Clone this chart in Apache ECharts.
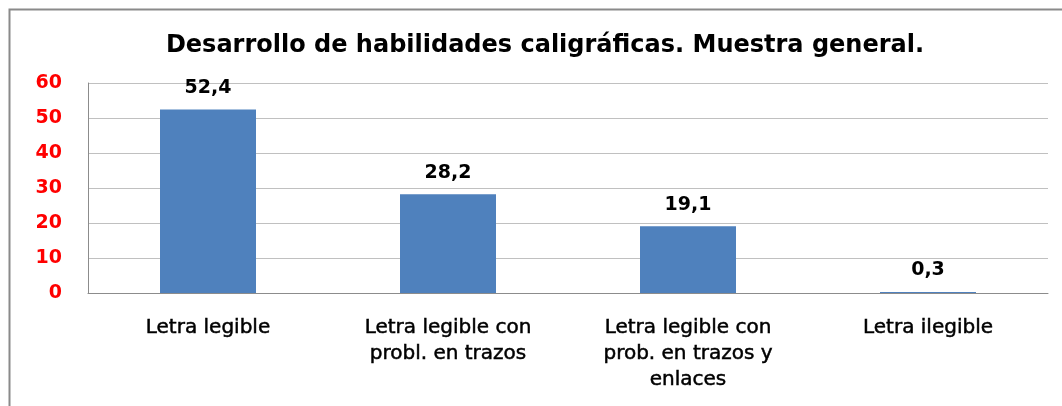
<!DOCTYPE html>
<html>
<head>
<meta charset="utf-8">
<script src="https://cdn.jsdelivr.net/npm/echarts@6/dist/echarts.min.js"></script>
<style>
html,body{margin:0;padding:0;background:#fff;}
#chart{width:1062px;height:406px;}
</style>
</head>
<body>
<div id="chart"></div>
<script>
var titleText = 'Desarrollo de habilidades caligráficas. Muestra general.';
var categories = ['Letra legible', 'Letra legible con\nprobl. en trazos', 'Letra legible con\nprob. en trazos y\nenlaces', 'Letra ilegible'];
var values = [52.4, 28.2, 19.1, 0.3];
var yTicks = [0, 10, 20, 30, 40, 50, 60];

var chart = echarts.init(document.getElementById('chart'), null, {renderer: 'canvas'});
chart.setOption({
  backgroundColor: '#ffffff',
  animation: false,
  graphic: [{
    type: 'rect',
    shape: {x: 9.5, y: 9.5, width: 1200, height: 600},
    style: {fill: 'none', stroke: '#8a8a8a', lineWidth: 2},
    silent: true
  }],
  title: {
    text: titleText,
    left: 540,
    textAlign: 'center',
    top: 29,
    textStyle: {fontFamily: 'DejaVu Sans', fontWeight: 'bold', fontSize: 24, color: '#000'}
  },
  grid: {left: 88, right: 14, top: 83, bottom: 113, containLabel: false},
  xAxis: {
    type: 'category',
    data: categories,
    axisLine: {lineStyle: {color: '#8c8c8c', width: 1}},
    axisTick: {show: false},
    axisLabel: {
      interval: 0, margin: 22, lineHeight: 26,
      fontFamily: 'DejaVu Sans', fontSize: 20, fontWeight: 'normal', color: '#000',
      textBorderColor: '#000', textBorderWidth: 0.5
    }
  },
  yAxis: {
    type: 'value',
    min: yTicks[0], max: yTicks[yTicks.length - 1], interval: 10,
    axisLine: {show: true, lineStyle: {color: '#8c8c8c', width: 1}},
    axisTick: {show: false},
    splitLine: {lineStyle: {color: '#c0c0c0', width: 1}},
    axisLabel: {
      margin: 26, fontFamily: 'DejaVu Sans', fontSize: 19, fontWeight: 'bold', color: '#ff0000'
    }
  },
  series: [{
    type: 'bar',
    data: values,
    barWidth: '40%',
    itemStyle: {color: '#4f81bd'},
    label: {
      show: true, position: 'top', distance: 12,
      fontFamily: 'DejaVu Sans', fontSize: 19, fontWeight: 'bold', color: '#000',
      formatter: function (p) { return String(p.value).replace('.', ','); }
    }
  }]
});
</script>
</body>
</html>
